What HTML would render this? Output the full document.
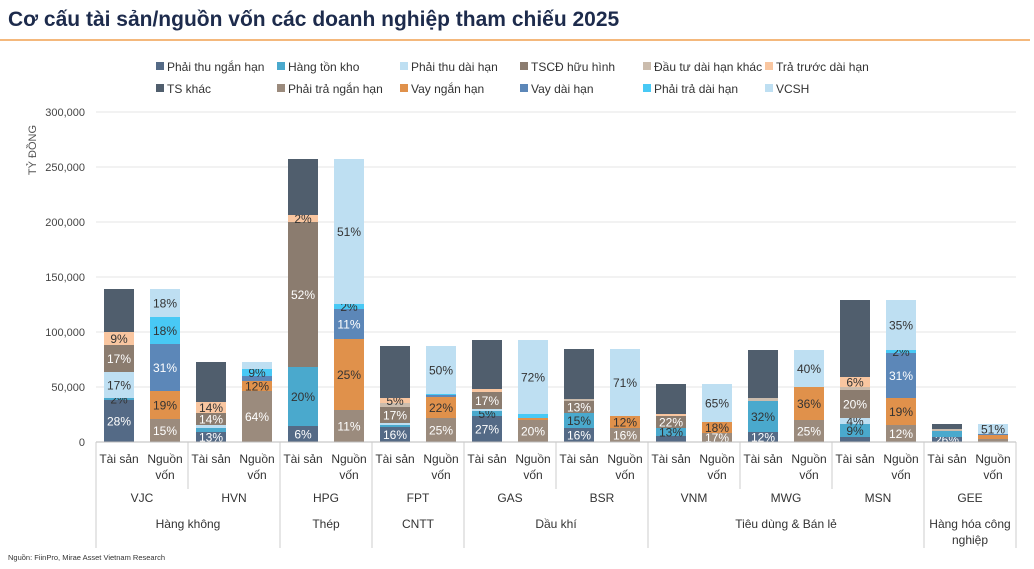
<!DOCTYPE html>
<html><head><meta charset="utf-8"><style>
body{margin:0;background:#fff;width:1034px;height:564px;overflow:hidden;font-family:"Liberation Sans","DejaVu Sans",sans-serif}
</style></head><body>
<svg id="s" width="1034" height="564" xmlns="http://www.w3.org/2000/svg" font-family="Liberation Sans, DejaVu Sans, sans-serif">
<text x="8" y="26" font-size="21" font-weight="bold" fill="#1d2b4c">Cơ cấu tài sản/nguồn vốn các doanh nghiệp tham chiếu 2025</text>
<line x1="0" y1="40" x2="1030" y2="40" stroke="#f0a050" stroke-width="1.5"/>
<text x="8" y="560" font-size="7.5" fill="#333">Nguồn: FiinPro, Mirae Asset Vietnam Research</text>
<text transform="translate(36,150) rotate(-90)" font-size="11" fill="#555" text-anchor="middle">TỶ ĐỒNG</text>
<g id="g"></g>
</svg>
<script>
const C={pt:'#546a86',htk:'#4aa9cd',ptd:'#bedff2',tscd:'#8b7c6f',dt:'#cbbcad',tt:'#f9c6a0',tsk:'#505e6d',ptn:'#9b8b7d',vn:'#e0914b',vd:'#5c87b8',ptdh:'#48c9f5',vc:'#bedff2'};
const dark={pt:1,tsk:1,tscd:1,ptn:1,vd:1,htk:0};
let h='';
for(let i=0;i<=6;i++){const y=442-55*i;h+=`<line x1="96" y1="${y}" x2="1016" y2="${y}" stroke="#e6e6e6"/>`;h+=`<text x="85" y="${y+4}" font-size="11" fill="#444" text-anchor="end">${i==0?'0':(i*50)+',000'}</text>`;}
const L=[['pt','Phải thu ngắn hạn'],['htk','Hàng tồn kho'],['ptd','Phải thu dài hạn'],['tscd','TSCĐ hữu hình'],['dt','Đầu tư dài hạn khác'],['tt','Trả trước dài hạn'],['tsk','TS khác'],['ptn','Phải trả ngắn hạn'],['vn','Vay ngắn hạn'],['vd','Vay dài hạn'],['ptdh','Phải trả dài hạn'],['vc','VCSH']];
const LX=[156,277,400,520,643,765];
L.forEach((l,i)=>{const x=LX[i%6],y=i<6?67:89;h+=`<rect x="${x}" y="${y-5}" width="8" height="8" fill="${C[l[0]]}"/><text x="${x+11}" y="${y+4}" font-size="12" fill="#333">${l[1]}</text>`;});
const B=[
[['pt',400,'28%'],['htk',398,'2%'],['ptd',372,'17%'],['tscd',345,'17%'],['tt',332,'9%'],['tsk',289,'']],
[['ptn',419,'15%'],['vn',391,'19%'],['vd',344,'31%'],['ptdh',317,'18%'],['vc',289,'18%']],
[['pt',432,'13%'],['htk',428,''],['ptd',425,''],['tscd',413,'14%'],['tt',402,'14%'],['tsk',362,'']],
[['ptn',391,'64%'],['vn',381,'12%'],['vd',376,''],['ptdh',369,'9%'],['vc',362,'']],
[['pt',426,'6%'],['htk',367,'20%'],['tscd',222,'52%'],['tt',215,'2%'],['tsk',159,'']],
[['ptn',410,'11%'],['vn',339,'25%'],['vd',309,'11%'],['ptdh',304,'2%'],['vc',159,'51%']],
[['pt',427,'16%'],['htk',425,''],['ptd',423,''],['tscd',407,'17%'],['dt',403,''],['tt',398,'5%'],['tsk',346,'']],
[['ptn',418,'25%'],['vn',397,'22%'],['vd',395,''],['ptdh',394,''],['vc',346,'50%']],
[['pt',416,'27%'],['htk',411,'5%'],['ptd',409,''],['tscd',392,'17%'],['tt',389,''],['tsk',340,'']],
[['ptn',420,'20%'],['vn',418,''],['ptdh',414,''],['vc',340,'72%']],
[['pt',428,'16%'],['htk',413,'15%'],['tscd',401,'13%'],['dt',399,''],['tsk',349,'']],
[['ptn',428,'16%'],['vn',416,'12%'],['vc',349,'71%']],
[['pt',436,''],['htk',428,'13%'],['tscd',416,'22%'],['tt',414,''],['tsk',384,'']],
[['ptn',433,'17%'],['vn',422,'18%'],['vc',384,'65%']],
[['pt',432,'12%'],['htk',401,'32%'],['dt',398,''],['tsk',350,'']],
[['ptn',420,'25%'],['vn',387,'36%'],['vc',350,'40%']],
[['pt',437,''],['htk',424,'9%'],['ptd',418,'4%'],['tscd',390,'20%'],['dt',387,''],['tt',377,'6%'],['tsk',300,'']],
[['ptn',425,'12%'],['vn',398,'19%'],['vd',353,'31%'],['ptdh',350,'2%'],['vc',300,'35%']],
[['pt',437,'26%'],['htk',431,''],['dt',429,''],['tsk',424,'']],
[['ptn',439,''],['vn',435,''],['vd',434,''],['vc',424,'51%']]
];
B.forEach((bar,i)=>{const cx=119+46*i,x=cx-15;let bot=442;
bar.forEach(s=>{const top=s[1];if(top<bot){h+=`<rect x="${x}" y="${top}" width="30" height="${bot-top}" fill="${C[s[0]]}"/>`;
if(s[2]){const fc=dark[s[0]]?'#fff':'#333';h+=`<text x="${cx}" y="${(top+bot)/2+4.5}" font-size="12" fill="${fc}" text-anchor="middle">${s[2]}</text>`;}}
bot=top;});});
h+=`<line x1="96" y1="442" x2="1016" y2="442" stroke="#bbb"/>`;
const comp=['VJC','HVN','HPG','FPT','GAS','BSR','VNM','MWG','MSN','GEE'];
const ind=[0,2,3,4,6,9,10];
for(let k=0;k<=10;k++){const x=96+92*k;const long=ind.includes(k);h+=`<line x1="${x}" y1="442" x2="${x}" y2="${long?548:489}" stroke="#ccc"/>`;}
comp.forEach((c,k)=>{const x=96+92*k;
h+=`<text x="${x+23}" y="463" font-size="12" fill="#333" text-anchor="middle">Tài sản</text>`;
h+=`<text x="${x+69}" y="463" font-size="12" fill="#333" text-anchor="middle">Nguồn</text><text x="${x+69}" y="479" font-size="12" fill="#333" text-anchor="middle">vốn</text>`;
h+=`<text x="${x+46}" y="502" font-size="12" fill="#333" text-anchor="middle">${c}</text>`;});
const I=[['Hàng không',188],['Thép',326],['CNTT',418],['Dầu khí',556],['Tiêu dùng &amp; Bán lẻ',786],['Hàng hóa công',970]];
I.forEach(t=>h+=`<text x="${t[1]}" y="528" font-size="12" fill="#333" text-anchor="middle">${t[0]}</text>`);
h+=`<text x="970" y="544" font-size="12" fill="#333" text-anchor="middle">nghiệp</text>`;
document.getElementById('g').innerHTML=h;
</script>
</body></html>
